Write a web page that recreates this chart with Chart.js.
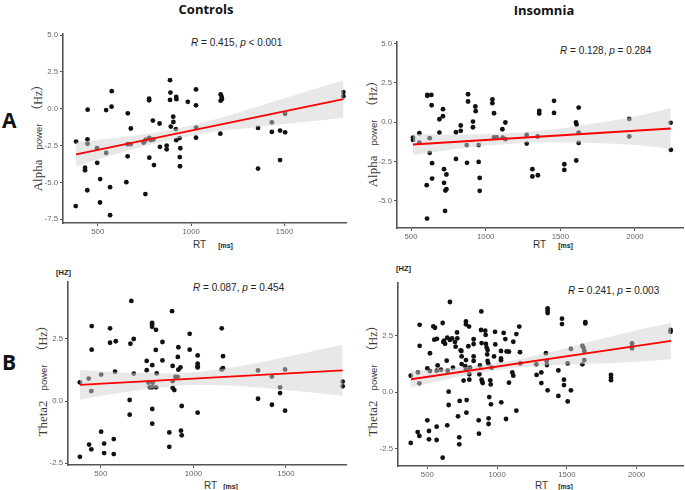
<!DOCTYPE html>
<html>
<head>
<meta charset="utf-8">
<script src="https://cdn.jsdelivr.net/npm/chart.js@4.4.0/dist/chart.umd.min.js"></script>
<style>
body { margin: 0; width: 685px; height: 490px; overflow: hidden; background: #fff; position: relative; font-family: "Liberation Sans", Arial, sans-serif; }
canvas { position: absolute; }
.t { position: absolute; white-space: nowrap; transform: translateY(-50%); line-height: 1; }
.head { font-family: "Open Sans", sans-serif; font-weight: 700; font-size: 13px; color: #111; transform: translate(-50%, -50%); }
.tag { font-family: "Open Sans", sans-serif; font-weight: 700; font-size: 21px; color: #111; }
.stat { font-size: 10px; color: #222; }
.ytitle { position: absolute; white-space: nowrap; transform: translate(-50%, -50%) rotate(-90deg); color: #3a3a3a; line-height: 1; }
.serif { font-family: "Liberation Serif", serif; font-size: 13px; }
.pw { font-size: 9.5px; margin: 0 7px 0 10px; }
.hz { font-family: "Liberation Serif", "Noto Sans CJK SC", serif; font-size: 12px; }
.unit { font-weight: 700; font-size: 7.5px; color: #222; }
.rt { font-size: 10px; color: #333; }
.ms { font-weight: 700; font-size: 7px; color: #222; }
</style>
</head>
<body>
<div class="t head" style="left:206px;top:9px">Controls</div>
<div class="t head" style="left:544px;top:10px">Insomnia</div>
<div class="t tag" style="left:2px;top:120px">A</div>
<div class="t tag" style="left:2px;top:362px">B</div>

<div class="ytitle" style="left:37px;top:135px"><span class="serif">Alpha</span><span class="pw">power</span><span class="hz">（Hz）</span></div>
<div class="ytitle" style="left:372px;top:131px"><span class="serif">Alpha</span><span class="pw">power</span><span class="hz">（Hz）</span></div>
<div class="ytitle" style="left:42px;top:378px"><span class="serif">Theta2</span><span class="pw">power</span><span class="hz">（Hz）</span></div>
<div class="ytitle" style="left:372px;top:378px"><span class="serif">Theta2</span><span class="pw">power</span><span class="hz">（Hz）</span></div>

<div class="t unit" style="left:56px;top:273px">[HZ]</div>
<div class="t unit" style="left:396px;top:269px">[HZ]</div>

<div class="t" style="left:193px;top:243px"><span class="rt">RT</span><span class="ms" style="margin-left:12px">[ms]</span></div>
<div class="t" style="left:533px;top:243px"><span class="rt">RT</span><span class="ms" style="margin-left:12px">[ms]</span></div>
<div class="t" style="left:204px;top:484px"><span class="rt">RT</span><span class="ms" style="margin-left:6px">[ms]</span></div>
<div class="t" style="left:535px;top:484px"><span class="rt">RT</span><span class="ms" style="margin-left:10px">[ms]</span></div>

<div class="t stat" style="left:191px;top:43px"><i>R</i> = 0.415, <i>p</i> &lt; 0.001</div>
<div class="t stat" style="left:560px;top:51px"><i>R</i> = 0.128, <i>p</i> = 0.284</div>
<div class="t stat" style="left:193px;top:288px"><i>R</i> = 0.087, <i>p</i> = 0.454</div>
<div class="t stat" style="left:568px;top:291px"><i>R</i> = 0.241, <i>p</i> = 0.003</div>

<canvas id="alphaCtrl"></canvas>
<canvas id="alphaIns"></canvas>
<canvas id="thetaCtrl"></canvas>
<canvas id="thetaIns"></canvas>

<script>
// === tick labels ===
const ctrlXTicks = [500, 1000, 1500];
const insXTicks = [500, 1000, 1500, 2000];
const alphaCtrlYTicks = [-7.5, -5, -2.5, 0, 2.5, 5];
const alphaInsYTicks = [-5, -2.5, 0, 2.5, 5];
const thetaYTicks = [-2.5, 0, 2.5];

// === Alpha power, controls ===
const alphaCtrlRT = [384, 382, 432, 432, 445, 445, 444, 446, 496, 497, 513, 512, 545, 545, 574, 575, 566, 566,
  653, 661, 660, 660, 676, 677, 755, 745, 750, 757, 775, 775, 776, 776, 783, 798, 795, 801, 831, 833, 869, 869,
  887, 889, 887, 891, 904, 905, 918, 920, 921, 920, 938, 942, 939, 940, 982, 1026, 1026, 1027, 1026,
  1158, 1163, 1165, 1158, 1156, 1358, 1358, 1432, 1432, 1476, 1476, 1503, 1503, 1815, 1815];
const alphaCtrlPow = [-2.23, -6.6, -4.0, -4.18, -2.08, -2.38, -5.53, -0.06, -2.68, -3.67, -4.77, -6.36, -0.09, -3.0, 0.14, 1.19, -5.32, -7.22,
  -4.98, -0.31, -3.23, -2.4, -2.4, -1.34, -5.79, -2.3, -2.22, -2.1, 0.68, 0.57, -1.97, -3.32, -2.12, -2.08, -0.8, -3.82, -1.0, -2.58, -2.5, -2.75,
  1.94, 1.1, 0.6, -1.21, -0.54, -0.9, -1.38, 0.8, 0.65, -2.13, -1.99, -2.68, -3.28, -3.9, 0.47, 1.31, 0.23, -1.28, -1.96,
  0.98, 0.81, 0.66, 0.55, -1.69, -1.3, -4.06, -0.92, -1.57, -1.48, -3.48, -0.34, -1.6, 1.13, 0.85];
const alphaCtrlFitRT = [384, 1815];
const alphaCtrlFit = [-3.09, 0.66];
const alphaCtrlBandRT = [384, 600, 800, 1000, 1200, 1400, 1600, 1815];
const alphaCtrlUpper = [-2.27, -1.97, -1.62, -1.13, -0.45, 0.32, 1.1, 1.93];
const alphaCtrlLower = [-3.91, -3.07, -2.38, -1.83, -1.45, -1.18, -0.9, -0.61];

// === Alpha power, insomnia ===
const alphaInsRT = [513, 513, 556, 556, 609, 609, 605, 607, 625, 625, 636, 638, 641, 641, 690, 690, 714, 714, 721, 721,
  730, 737, 737, 728, 801, 801, 833, 833, 873, 875, 882, 882, 915, 915, 931, 933, 953, 953, 960, 960,
  1045, 1045, 1056, 1056, 1074, 1112, 1114, 1132, 1132, 1275, 1275, 1313, 1313, 1348, 1350, 1359, 1359,
  1458, 1458, 1527, 1527, 1605, 1609, 1607, 1623, 1623, 1623, 1962, 1962, 2239, 2241];
const alphaInsPow = [-0.98, -1.13, -0.7, -1.3, 1.74, 1.68, -4.01, -6.14, -1.02, -1.95, 1.74, 1.08, -2.61, -3.59, 0.19, -0.66, 0.83, 0.38, -2.99, -3.86,
  -4.35, -4.27, -3.33, -5.65, -0.64, -2.34, -0.21, -0.55, -1.46, -2.59, 1.78, 1.32, 0.04, -0.32, 1.0, 0.7, -1.46, -2.53, -3.55, -4.37,
  1.46, 1.21, 0.57, -0.96, -0.96, -0.45, -0.98, -0.02, -1.08, -0.81, -1.36, -2.99, -3.46, -0.91, -3.38, 0.72, 0.55,
  1.36, 0.59, -2.68, -3.04, -0.02, -0.15, -2.44, 0.93, -0.66, -1.32, 0.21, -0.91, -0.04, -1.76];
const alphaInsFitRT = [513, 2240];
const alphaInsFit = [-1.42, -0.40];
const alphaInsBandRT = [513, 800, 1100, 1400, 1700, 2000, 2240];
const alphaInsUpper = [-0.74, -0.80, -0.72, -0.52, -0.12, 0.36, 0.90];
const alphaInsLower = [-2.10, -1.70, -1.42, -1.28, -1.32, -1.44, -1.72];

// === Theta2 power, controls ===
const thetaCtrlRT = [387, 435, 451, 451, 449, 437, 449, 387, 502, 502, 518, 518, 550, 550, 581, 577, 570, 570,
  665, 660, 678, 678, 656, 656, 748, 748, 757, 764, 777, 777, 777, 778, 780, 777, 778, 778,
  798, 797, 802, 798, 833, 833, 870, 870, 885, 888, 888, 888, 897, 903, 915, 916, 919, 919, 930, 937, 933, 937,
  980, 980, 1023, 1023, 1023, 1023, 1023, 1153, 1160, 1153, 1160, 1349, 1349, 1424, 1424, 1468, 1468, 1495, 1495, 1806, 1806];
const thetaCtrlPow = [0.75, 0.9, 3.01, 2.06, 0.4, -1.75, -1.94, -2.24, 1.06, -1.23, -1.71, -2.09, 2.92, 2.34, 2.4, 1.18, -1.53, -2.13,
  4.02, 2.3, 2.49, 1.1, 0.04, -0.55, 1.61, 1.24, 0.74, 0.55, 3.14, 3.07, 2.98, 1.44, 0.73, 0.55, -0.32, -0.91,
  2.86, 2.05, 1.11, 0.55, 2.37, 1.63, -1.26, -1.84, 3.61, 1.41, 0.8, 0.53, 0.44, 0.97, 0.97, 1.77, 2.16, 1.26, 1.35, -0.2, -1.19, -1.38,
  2.7, 2.06, 1.83, 1.5, 1.4, 1.35, -0.47, 2.92, 1.8, 1.27, 1.32, 1.23, 0.09, 0.98, -0.15, 0.55, 0.32, 1.27, -0.39, 0.78, 0.59];
const thetaCtrlFitRT = [387, 1806];
const thetaCtrlFit = [0.65, 1.23];
const thetaCtrlBandRT = [387, 600, 800, 1000, 1200, 1400, 1600, 1806];
const thetaCtrlUpper = [1.25, 1.16, 1.12, 1.16, 1.34, 1.61, 1.93, 2.26];
const thetaCtrlLower = [0.05, 0.32, 0.52, 0.64, 0.62, 0.51, 0.37, 0.20];

// === Theta2 power, insomnia ===
const thetaInsRT = [381, 381, 433, 431, 443, 445, 445, 443, 500, 500, 512, 512, 519, 519, 543, 555, 550, 569, 567, 567,
  574, 567, 610, 610, 615, 627, 643, 639, 646, 653, 653, 643, 662, 662, 677, 684, 698, 703, 713, 715,
  720, 729, 729, 732, 739, 746, 746, 760, 777, 777, 777, 777, 782, 780, 794, 799, 801, 801, 806,
  832, 832, 832, 832, 868, 870, 873, 877, 885, 887, 889, 889, 893, 897, 918, 920, 925, 929, 932, 932, 937,
  939, 939, 944, 951, 954, 961, 956, 978, 987, 985, 1028, 1028, 1028, 1030, 1047, 1059, 1064, 1068, 1085, 1085,
  1116, 1116, 1138, 1138, 1159, 1164, 1166, 1281, 1283, 1317, 1317, 1350, 1355, 1357, 1362, 1362, 1362, 1362,
  1439, 1439, 1465, 1465, 1479, 1479, 1506, 1506, 1529, 1529, 1611, 1618, 1611, 1625, 1625, 1632, 1632,
  1816, 1816, 1816, 1967, 1967, 1967, 2243, 2243, 598, 620, 744, 772, 915, 1109];
const thetaInsPow = [0.74, -2.24, 0.88, -1.76, -1.93, 2.99, 2.06, 0.4, 1.06, -1.24, -1.71, -2.08, 0.94, 1.73, 2.92, 2.86, 2.33, 2.37, -1.52, -2.11,
  1.19, 0.96, 3.07, -2.89, 2.23, 2.15, 2.42, 1.4, 0.96, 0.03, -0.56, -1.46, 4.0, 2.32, 2.39, 1.09, 2.23, 2.02, 2.65, 2.39,
  -1.06, -1.99, -2.3, -0.38, 1.86, 1.59, 1.25, 0.52, 3.14, 3.01, 1.43, 1.02, -0.34, -0.9, 2.04, 2.91, 0.8, 0.56, 1.09,
  2.35, 2.14, 1.59, 1.39, -1.24, -1.83, 0.8, 1.19, 2.76, 3.58, 2.18, 0.56, 0.47, 0.41, 2.54, 2.14, 1.98, 1.68, 1.39, 1.87, 1.28,
  -1.15, -1.4, -0.21, 0.53, 0.35, 1.09, -0.53, 1.59, 2.12, 2.68, 1.5, 1.42, 1.83, -0.44, 2.63, 2.36, -1.18, 1.81, 1.8, 0.43,
  2.24, 0.74, 2.58, -0.81, 2.91, 1.78, 1.28, 1.24, 0.77, 0.88, 0.41, 1.73, 1.39, 1.21, 3.72, 3.61, 3.51, 0.09,
  0.97, -0.16, 3.26, 3.02, 0.56, 0.32, -0.4, 1.28, 1.92, 0.09, 2.06, 1.98, 1.24, 1.83, 1.43, 3.11, 3.05,
  0.77, 0.65, 0.54, 2.17, 2.05, 1.95, 2.76, 2.68, 1.0, 2.29, 1.83, 1.16, 2.73, 0.88];
const thetaInsFitRT = [383, 2246];
const thetaInsFit = [0.58, 2.28];
const thetaInsBandRT = [383, 600, 800, 1000, 1200, 1400, 1600, 1800, 2000, 2246];
const thetaInsUpper = [0.95, 1.04, 1.14, 1.29, 1.53, 1.81, 2.13, 2.45, 2.75, 3.08];
const thetaInsLower = [0.21, 0.52, 0.78, 0.99, 1.13, 1.21, 1.25, 1.29, 1.35, 1.48];

const pts = (xs, ys) => xs.map((x, i) => ({ x: x, y: ys[i] }));

// plot box of each panel on the page, and axis ranges
const Y_AXIS_W = 30, X_AXIS_H = 16, PAD_TOP = 10, PAD_RIGHT = 6;

function buildPanel(id, box, xRange, yRange, xTicks, yTicks, rt, pow, fitRT, fit, bandRT, upper, lower) {
  const canvas = document.getElementById(id);
  const w = box.right - box.left + Y_AXIS_W + PAD_RIGHT;
  const h = box.bottom - box.top + PAD_TOP + X_AXIS_H;
  canvas.width = w;
  canvas.height = h;
  canvas.style.width = w + "px";
  canvas.style.height = h + "px";
  canvas.style.left = (box.left - Y_AXIS_W) + "px";
  canvas.style.top = (box.top - PAD_TOP) + "px";

  const axisCommon = {
    type: "linear",
    grid: { display: true, drawOnChartArea: false, drawTicks: true, tickLength: 3, color: "#555", lineWidth: 1 },
    border: { display: true, color: "#555", width: 1.6 }
  };

  return new Chart(canvas, {
    type: "scatter",
    data: {
      datasets: [
        { type: "line", data: pts(fitRT, fit), borderColor: "#ff0000", borderWidth: 1.8, pointRadius: 0, fill: false, order: 1 },
        { type: "line", data: pts(bandRT, upper), borderWidth: 0, borderColor: "rgba(0,0,0,0)", pointRadius: 0,
          fill: "+1", backgroundColor: "rgba(210,210,210,0.5)", cubicInterpolationMode: "monotone", order: 2 },
        { type: "line", data: pts(bandRT, lower), borderWidth: 0, borderColor: "rgba(0,0,0,0)", pointRadius: 0,
          fill: false, cubicInterpolationMode: "monotone", order: 2 },
        { data: pts(rt, pow), backgroundColor: "#111", borderWidth: 0, pointRadius: 2.4, order: 3 }
      ]
    },
    options: {
      responsive: false,
      animation: false,
      layout: { autoPadding: false, padding: { top: PAD_TOP, right: PAD_RIGHT, left: 0, bottom: 0 } },
      plugins: { legend: { display: false }, tooltip: { enabled: false } },
      scales: {
        x: Object.assign({}, axisCommon, {
          min: xRange[0], max: xRange[1],
          afterBuildTicks: s => { s.ticks = xTicks.map(v => ({ value: v })); },
          afterFit: s => { s.height = X_AXIS_H; },
          ticks: { autoSkip: false, maxRotation: 0, padding: 1, color: "#666",
            font: { family: "Liberation Sans", size: 7.8 }, callback: v => String(v) }
        }),
        y: Object.assign({}, axisCommon, {
          min: yRange[0], max: yRange[1],
          afterBuildTicks: s => { s.ticks = yTicks.map(v => ({ value: v })); },
          afterFit: s => { s.width = Y_AXIS_W; },
          ticks: { autoSkip: false, padding: 2, color: "#666",
            font: { family: "Liberation Sans", size: 7.8 }, callback: v => Number(v).toFixed(1) }
        })
      }
    }
  });
}

buildPanel("alphaCtrl", { left: 63, top: 34, right: 346, bottom: 223 }, [314, 1829], [-7.75, 5.07],
  ctrlXTicks, alphaCtrlYTicks, alphaCtrlRT, alphaCtrlPow, alphaCtrlFitRT, alphaCtrlFit, alphaCtrlBandRT, alphaCtrlUpper, alphaCtrlLower);
buildPanel("alphaIns", { left: 397, top: 42, right: 683, bottom: 228 }, [406, 2322], [-6.74, 5.11],
  insXTicks, alphaInsYTicks, alphaInsRT, alphaInsPow, alphaInsFitRT, alphaInsFit, alphaInsBandRT, alphaInsUpper, alphaInsLower);
buildPanel("thetaCtrl", { left: 68, top: 282, right: 346, bottom: 465 }, [323, 1824], [-2.57, 4.78],
  ctrlXTicks, thetaYTicks, thetaCtrlRT, thetaCtrlPow, thetaCtrlFitRT, thetaCtrlFit, thetaCtrlBandRT, thetaCtrlUpper, thetaCtrlLower);
buildPanel("thetaIns", { left: 398, top: 283, right: 683, bottom: 466 }, [290, 2332], [-3.26, 4.84],
  insXTicks, thetaYTicks, thetaInsRT, thetaInsPow, thetaInsFitRT, thetaInsFit, thetaInsBandRT, thetaInsUpper, thetaInsLower);
</script>
</body>
</html>
